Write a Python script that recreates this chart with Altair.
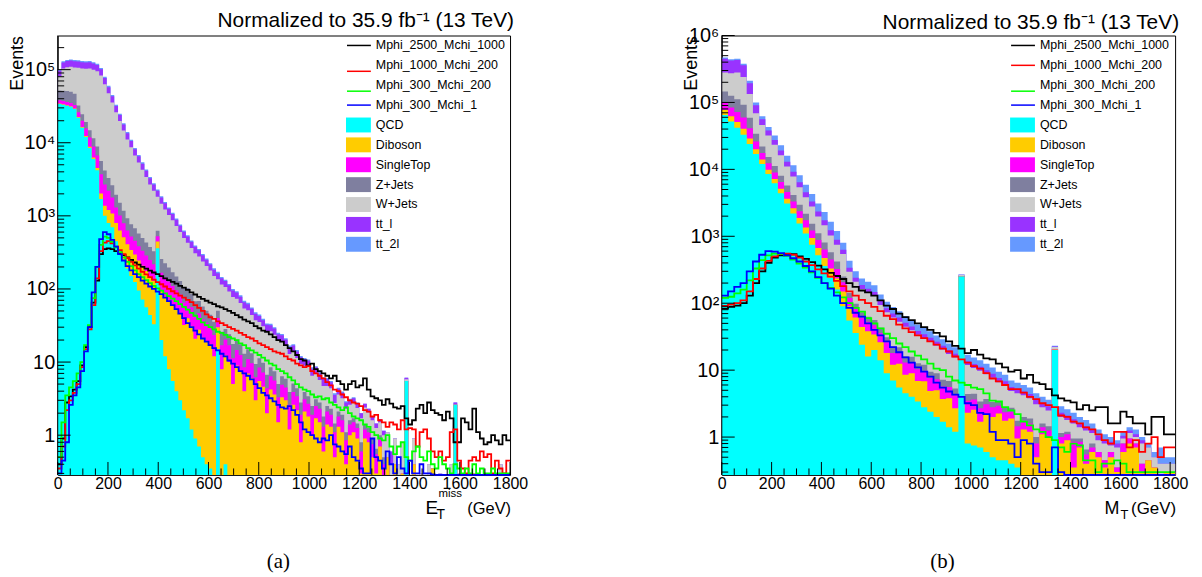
import altair as alt
import numpy as np
import pandas as pd

# ---------------- names / colours ----------------
BKG_NAMES = ["QCD", "Diboson", "SingleTop", "Z+Jets", "W+Jets", "tt_l", "tt_2l"]
BKG_COLORS = ["#00FFFF", "#FFCC00", "#FF00FF", "#7F7F9F", "#CCCCCC", "#9933FF", "#6699FF"]
SIG_NAMES = ["Mphi_2500_Mchi_1000", "Mphi_1000_Mchi_200", "Mphi_300_Mchi_200", "Mphi_300_Mchi_1"]
SIG_COLORS = ["#000000", "#FF0000", "#00FF00", "#0000FF"]

TITLE = "Normalized to 35.9 fb\u207b\u00b9  (13 TeV)"
X_TICK_LABELS = [0, 200, 400, 600, 800, 1000, 1200, 1400, 1600, 1800]
Y_DECADES_L = [1, 10, 100, 1000, 10000, 100000]
Y_DECADES_R = [1, 10, 100, 1000, 10000, 100000, 1000000]

# ---------------- panel (a): MET, 15 GeV bins ----------------
BIN_L = 15
QCD_L = [34000, 33000, 32000, 31000, 29000, 22000, 16000, 12000, 8500, 6000,
         4200, 1700, 1000, 800, 700, 450, 330, 250, 190, 150,
         125, 95, 72, 56, 44, 33, 360, 20, 12, 8,
         5.5, 4, 3, 2.2, 1.7, 1.2, 0.9, 0.7, 0.5, 0.4,
         0.35, 0, 15, 0, 0.4, 0, 0, 0, 0, 0,
         0, 0, 0, 0, 0, 0, 0, 0, 0, 0,
         0, 0, 0, 0, 0, 0, 0, 0, 0, 0,
         0, 0, 0, 0, 0, 0, 0, 0, 0, 0,
         0, 0, 0, 0, 0, 0, 0, 0, 0, 0,
         0, 0, 5.5, 0, 0, 0, 0, 0, 0, 0,
         0, 0, 0, 0, 0, 2.6, 0, 0, 0, 0,
         0, 0, 0, 0, 0, 0, 0, 0, 0, 0]
DIB_L = [500, 500, 500, 500, 450, 420, 380, 350, 320, 300,
         300, 320, 380, 400, 380, 350, 300, 260, 220, 190,
         170, 150, 135, 120, 105, 95, 85, 75, 67, 60,
         54, 48, 43, 30, 38, 30, 20, 27, 21, 19,
         17, 12, 15, 8, 12, 10, 5, 9, 7.5, 4,
         7, 6, 3, 5.5, 4.6, 2, 4.2, 3.6, 1.5, 3.3,
         3, 1.2, 2.6, 2.2, 0.8, 2.1, 1.8, 1.0, 1.7, 1.5,
         0.6, 1.4, 1.3, 0.5, 1.3, 1.1, 0.4, 1.0, 1.1, 0.9,
         0.3, 0.9, 0.8, 0.5, 0.3, 0.7, 0.2, 0.5, 0, 0.4,
         0, 0.3, 0, 0, 0.4, 0, 0, 0, 0, 0.35,
         0, 0, 0, 0, 0, 0, 0, 0, 0, 0,
         0.3, 0, 0, 0, 0, 0, 0.3, 0, 0, 0]
SING_L = [3500, 3600, 3600, 3500, 3400, 3800, 3600, 3300, 3000, 2600,
          2200, 1700, 1300, 1000, 700, 500, 380, 280, 220, 180,
          160, 140, 125, 110, 100, 90, 80, 72, 65, 58,
          50, 44, 38, 33, 29, 25, 22, 19, 17, 15,
          13, 11.5, 10, 9, 8, 7, 6.3, 5.6, 5, 4.5,
          4, 3.6, 3.2, 2.9, 2.6, 2.4, 2.2, 2, 1.8, 1.6,
          1.5, 1.4, 1.3, 1.2, 1.1, 1.0, 0.9, 0.9, 0.8, 0.8,
          0.7, 0.7, 0.6, 0.6, 0.5, 0.5, 0.45, 0.4, 0.4, 0.35,
          0.3, 0.3, 0.3, 0.25, 0.25, 0.2, 0.2, 0, 0, 0,
          0, 0, 0, 0, 0, 0, 0, 0, 0, 0,
          0, 0, 0, 0, 0, 0, 0, 0, 0, 0,
          0, 0, 0, 0, 0, 0, 0, 0, 0, 0]
ZJ_L = [14000, 14500, 15000, 15000, 14000, 6000, 4500, 3500, 3000, 2600,
        2200, 1900, 1500, 1100, 850, 650, 500, 380, 300, 250,
        220, 190, 165, 145, 125, 110, 100, 90, 80, 70,
        60, 52, 45, 39, 34, 29, 25, 22, 19, 16,
        14, 12, 10.5, 9, 8, 7, 6.3, 5.6, 5, 4.5,
        4, 3.6, 3.2, 2.9, 2.6, 2.3, 2.1, 1.9, 1.7, 1.5,
        1.4, 1.3, 1.2, 1.0, 0.9, 0.8, 0.7, 0.6, 0.6, 0.5,
        0.5, 0.4, 0.4, 0.35, 0.3, 0.3, 0.25, 0.2, 0.2, 0.2,
        0.2, 0.2, 0.15, 0.15, 0.1, 0.1, 0.1, 0, 0, 0,
        0, 0, 0, 0, 0, 0, 0, 0, 0, 0,
        0, 0, 0, 0, 0, 0, 0, 0, 0, 0,
        0, 0, 0, 0, 0, 0, 0, 0, 0, 0]
WJ_L = [28500, 51900, 56900, 59500, 60150, 73780, 79020, 83850, 89180, 88200,
        86000, 77380, 59120, 44100, 32970, 24150, 18290, 13490, 10110, 7920,
        6035, 4805, 3763, 2969, 2306, 1882, 1195, 1204, 999, 832,
        700, 579, 471, 393, 327, 279, 241, 210, 180, 156,
        134, 115, 85, 89, 78, 68, 60, 53, 47, 41,
        36, 31, 28, 24, 21, 19.6, 17.9, 16.2, 14.5, 12.8,
        10.9, 9.0, 8.8, 7.0, 6.6, 5.0, 5.2, 4.0, 4.0, 2.9,
        2.9, 2.2, 2.1, 1.3, 1.5, 1.3, 1.2, 1.0, 1.1, 0.9,
        0.9, 1.0, 0.8, 0.7, 0.6, 0.5, 0.5, 0.6, 0.4, 0.5,
        0.4, 0.5, 0.3, 0, 0.5, 0, 0.3, 0, 0.4, 0,
        0, 0.3, 0, 0, 0.4, 0, 0.3, 0, 0, 0,
        0, 0.3, 0, 0, 0, 0, 0, 0.4, 0, 0]
TTL_L = [16000, 22000, 23000, 23500, 23000, 23000, 22500, 22000, 22000, 21500,
         20500, 18000, 13600, 10200, 7600, 5600, 4200, 3100, 2400, 1870,
         1450, 1150, 920, 730, 580, 480, 390, 315, 265, 220,
         187, 156, 130, 109, 92, 78, 68, 60, 51, 44,
         38, 33, 29, 25, 22, 20, 18, 16, 14, 12,
         11, 9.5, 8.5, 7.5, 6.6, 6.1, 5.6, 5.1, 4.6, 4.1,
         3.6, 3.2, 2.9, 2.6, 2.2, 2.0, 1.8, 1.6, 1.4, 1.3,
         1.2, 1.1, 0.9, 0.8, 0.7, 0.6, 0.5, 0.45, 0.4, 0.35,
         0.3, 0.3, 0.25, 0.2, 0.2, 0.15, 0.15, 0, 0.2, 0,
         0, 0, 0.3, 0, 0, 0, 0, 0, 0, 0,
         0, 0, 0, 0, 0, 0.2, 0, 0, 0, 0,
         0, 0, 0, 0, 0, 0, 0, 0, 0, 0]
TT2L_L = [3500, 4500, 5000, 5000, 5000, 5000, 5000, 5000, 5000, 4800,
          4600, 4000, 3100, 2400, 1800, 1300, 1000, 740, 560, 440,
          340, 270, 220, 170, 140, 110, 90, 74, 62, 52,
          44, 37, 30, 26, 22, 18, 16, 14, 12, 10,
          9, 8, 7, 6, 5.3, 4.7, 4.2, 3.7, 3.3, 2.9,
          2.6, 2.2, 2, 1.8, 1.6, 1.4, 1.3, 1.2, 1.1, 1,
          0.8, 0.8, 0.7, 0.6, 0.5, 0.5, 0.4, 0.4, 0.3, 0.3,
          0.3, 0.25, 0.2, 0.2, 0.15, 0.15, 0.1, 0.1, 0.1, 0.1,
          0, 0, 0, 0, 0, 0, 0, 0, 0, 0,
          0, 0, 0, 0, 0, 0, 0, 0, 0, 0,
          0, 0, 0, 0, 0, 0, 0, 0, 0, 0,
          0, 0, 0, 0, 0, 0, 0, 0, 0, 0]

SIG1_L = [0.4, 0.9, 2.8, 3.4, 4.2, 5.5, 9, 16, 30, 65,
          130, 300, 350, 360, 350, 330, 310, 290, 270, 250,
          230, 215, 200, 190, 178, 168, 160, 150, 140, 132,
          125, 118, 110, 104, 97, 90, 84, 78, 73, 69,
          65, 62, 58, 56, 53, 50, 47, 44, 41, 38,
          36, 34, 31, 29, 27, 26, 24, 22, 20, 19,
          17, 15.5, 14, 12.5, 11, 10.5, 9, 9.5, 8, 7.5,
          7, 6.5, 6, 6.5, 5.5, 5, 4.2, 5, 5.5, 4.5,
          4.8, 6, 4.2, 3.4, 3.2, 3, 2.6, 3.1, 2.7, 2.4,
          2.3, 2.5, 1.7, 1.4, 1.6, 2.3, 2.6, 2, 2.8, 2.2,
          2, 1.9, 1.6, 2.1, 1.7, 0.8, 0.8, 1.7, 1.5, 1.2,
          2.3, 1.1, 0.9, 0.75, 0.8, 1.0, 0.85, 0.75, 1.0, 0.85]
SIG2_L = [0.35, 0.7, 2.2, 3, 3.8, 5, 8.5, 15, 28, 60,
          140, 330, 430, 450, 420, 380, 340, 300, 265, 235,
          210, 190, 172, 158, 145, 134, 124, 116, 108, 100,
          93, 87, 81, 76, 71, 66, 60, 55, 50, 45,
          41, 39, 36, 34, 32, 30, 28.5, 27, 25, 23.5,
          22, 21, 19.5, 18, 17, 16, 15, 14, 13.5, 13,
          12, 11, 10.5, 9.5, 9, 8.5, 8.8, 7.5, 7, 6.5,
          6, 5.3, 4.8, 4.2, 4, 3.6, 3.3, 3, 2.8, 2.7,
          2.5, 2.2, 2.1, 1.8, 1.9, 1.6, 1.5, 1.3, 1.5, 1.4,
          1.2, 1.6, 1.2, 1.25, 1.2, 0.7, 1.1, 1.2, 0.9, 0.6,
          0.5, 0.6, 0.45, 0.5, 1.1, 1.2, 0.45, 0.35, 0.3, 0.45,
          0.5, 0.45, 0.6, 0.5, 0.55, 0.3, 0.45, 0.35, 0.3, 0.45]
SIG3_L = [0.5, 1.5, 3.5, 4.5, 5.5, 7, 10, 17, 32, 75,
          200, 400, 520, 500, 440, 370, 320, 270, 235, 205,
          180, 160, 145, 132, 120, 110, 102, 95, 87, 80,
          74, 68, 62, 57, 52, 47, 43, 39, 35, 32,
          30, 28, 26, 25, 23.5, 22, 21, 20, 18, 17,
          15.5, 14.5, 13.5, 12.5, 11.5, 10.5, 9.5, 9, 8, 7.5,
          7, 6.2, 5.6, 5, 4.5, 4.2, 4, 3.6, 3.3, 3.4,
          3.1, 3.2, 2.8, 2.6, 2.4, 2.2, 2.4, 2, 1.8, 1.7,
          1.6, 1.4, 1.3, 1.1, 1.0, 0.9, 0.85, 1.0, 0.7, 0.55,
          0.7, 0.8, 0.5, 0.45, 0.6, 0.7, 0.5, 0.45, 0.6, 0.4,
          0.35, 0.5, 0.4, 0.35, 0.3, 0.4, 0.35, 0.3, 0.35, 0.3,
          0.4, 0.3, 0.35, 0.3, 0.3, 0.35, 0.3, 0.3, 0.3, 0.3]
SIG4_L = [0.3, 0.45, 0.8, 2.6, 3.5, 4.5, 7.5, 14, 30, 90,
          200, 480, 600, 560, 470, 380, 300, 245, 205, 180,
          160, 145, 130, 118, 108, 100, 92, 85, 76, 68,
          60, 53, 46, 40, 34, 30, 27, 24, 21, 19,
          17, 15.5, 14.5, 13, 12, 10.5, 9.5, 8.5, 7.5, 7,
          6.5, 5.8, 5, 4.4, 3.8, 3.5, 3.2, 2.9, 2.6, 2.4,
          2.3, 2.5, 2.2, 1.9, 1.5, 1.2, 1.1, 1.0, 0.9, 0.8,
          0.9, 0.85, 1.0, 0.75, 0.7, 0.6, 0.55, 0.7, 0.5, 0.45,
          0.35, 0.3, 0.3, 0.9, 0.5, 0.45, 0.35, 0.6, 0.4, 0.3,
          0.5, 0.35, 0.3, 0.45, 0.3, 0.3, 0.4, 0.3, 0.3, 0.29,
          0.2, 0.2, 0.2, 0.2, 0.2, 0.2, 0.2, 0.2, 0.2, 0.2,
          0.2, 0.2, 0.2, 0.2, 0.2, 0.2, 0.2, 0.2, 0.2, 0.2]

# ---------------- panel (b): MT, 25 GeV bins ----------------
BIN_R = 25
QCD_R = [65000, 52000, 42000, 33000, 24000, 17000, 12000, 8500, 6200, 4400,
         3100, 2200, 1550, 1100, 750, 520, 360, 240, 160, 90,
         55, 36, 24, 16, 20, 14, 9, 7, 5.5, 4.5,
         4, 3.4, 2.8, 2.4, 2, 1.7, 1.4, 1.2, 250, 0.8,
         0.75, 0.7, 0.6, 0.5, 0.45, 0.45, 0.4, 0.35, 0, 0,
         0, 0, 0, 20, 0, 0, 0, 0, 0, 0,
         0, 0, 0, 0, 0, 0, 0, 0, 0, 0,
         0, 0]
DIB_R = [12000, 10000, 9000, 7500, 5000, 3000, 2000, 1400, 1000, 750,
         550, 420, 320, 250, 190, 150, 115, 90, 75, 60,
         35, 25, 20, 22, 14, 12, 9, 5, 7, 4,
         5, 3.5, 4, 2.5, 3, 2, 2.4, 1.5, 1.8, 1.5,
         1.8, 1.0, 1.6, 1.5, 1.8, 1.3, 1.5, 0.6, 1.3, 1.2,
         0.5, 1.1, 1.0, 0.4, 0.8, 0.9, 0.35, 0.7, 0.4, 0.6,
         0.5, 0.35, 0.5, 0.3, 0.6, 0.8, 0.7, 0.3, 0.45, 0.35,
         0.2, 0.3]
SING_R = [23000, 22000, 21000, 19000, 12000, 6000, 3500, 2400, 1800, 1300,
          950, 700, 500, 380, 280, 210, 160, 120, 90, 55,
          30, 22, 17, 15, 13, 10, 8, 6, 5.5, 4.5,
          4, 3.4, 3, 2.7, 2.3, 2, 1.8, 1.5, 1.4, 1.2,
          1.1, 1.0, 0.9, 0.8, 0.7, 0.6, 0.5, 0.5, 0.4, 0.4,
          0.3, 0.3, 0.25, 0.2, 0.2, 0.2, 0.5, 0.15, 0.15, 0.1,
          0.1, 0.1, 0.1, 0.05, 0.2, 0.15, 0.1, 0.1, 0, 0,
          0, 0]
ZJ_R = [46000, 42000, 40000, 33000, 18000, 8000, 4500, 3000, 2200, 1600,
        1150, 830, 600, 440, 320, 235, 175, 130, 95, 45,
        22, 15, 12, 10, 9, 7, 5, 4.5, 4, 3.2,
        2.8, 2.4, 2.2, 1.9, 1.7, 1.5, 1.3, 1.1, 1.0, 0.9,
        0.8, 0.7, 0.6, 0.55, 0.5, 0.4, 0.35, 0.3, 0.3, 0.3,
        0.2, 0.2, 0.2, 0.15, 0.15, 0.1, 0.1, 0.1, 0.1, 0.1,
        0, 0, 0, 0, 0, 0, 0, 0, 0, 0,
        0, 0]
WJ_R = [134000, 146000, 168000, 147500, 75000, 35000, 24000, 16700, 12100, 8150,
        5250, 3650, 2430, 1660, 1240, 855, 650, 450, 325, 295,
        153, 112, 90, 81, 72, 51, 42, 38.5, 31, 28.3,
        23.6, 21, 18.2, 17.2, 14.2, 13.1, 10.6, 10.1, 9, 7.5,
        6.35, 6.4, 5, 4.35, 3.15, 3.15, 2.15, 2.75, 2.2, 1.9,
        2.1, 1.2, 1.05, 1.5, 0.85, 0.6, 0.65, 0.45, 0.6, 0.35,
        0.3, 0.35, 0.15, 0.35, 0.15, 0.2, 0.2, 0.4, 0.25, 0.15,
        0.2, 0.1]
TTL_R = [170000, 150000, 150000, 120000, 60000, 22000, 10000, 6000, 4200, 3000,
         2000, 1400, 1000, 720, 520, 380, 280, 200, 145, 85,
         45, 30, 24, 21, 19, 14, 11, 9, 8, 6.5,
         5.6, 4.8, 4.3, 3.8, 3.3, 2.9, 2.5, 2.2, 2, 1.7,
         1.6, 1.4, 1.3, 1.1, 1.0, 0.9, 0.7, 0.7, 0.6, 0.6,
         0.5, 0.4, 0.4, 0.3, 0.3, 0.3, 0.25, 0.2, 0.2, 0.15,
         0.15, 0.1, 0.1, 0.1, 0.1, 0.1, 0.1, 0.1, 0, 0,
         0, 0]
TT2L_R = [20000, 18000, 20000, 20000, 16000, 9000, 6000, 5000, 4500, 3800,
          3000, 2300, 1800, 1350, 1000, 750, 560, 420, 310, 170,
          90, 60, 48, 45, 38, 27, 21, 18, 15, 13,
          11, 9.5, 8.5, 7.5, 6.5, 5.8, 5, 4.4, 4, 3.4,
          3.1, 2.8, 2.5, 2.2, 1.9, 1.7, 1.4, 1.3, 1.2, 1.1,
          0.9, 0.8, 0.7, 0.6, 0.6, 0.5, 0.45, 0.4, 0.35, 0.3,
          0.25, 0.2, 0.15, 0.1, 0.15, 0.15, 0.2, 0.1, 0.1, 0.1,
          0.3, 0.1]

SIG1_R = [83, 88, 92, 100, 130, 200, 300, 400, 480, 520,
          545, 540, 500, 460, 410, 365, 320, 285, 255, 230,
          200, 175, 155, 145, 130, 110, 92, 82, 70, 62,
          56, 50, 44, 40, 36, 32, 27, 23, 21, 18,
          20, 17, 15, 14.5, 12.5, 11, 9.5, 10, 7.5, 8.5,
          6.5, 6.2, 5.2, 4.2, 3.8, 3.5, 3.3, 2.6, 3.0, 2.5,
          2.8, 2.8, 1.6, 1.6, 2.4, 2.0, 1.6, 1.6, 1.1, 2.0,
          2.0, 1.1]
SIG2_R = [91, 95, 100, 110, 150, 230, 330, 430, 500, 540,
          550, 530, 480, 420, 370, 320, 280, 250, 215, 180,
          150, 130, 112, 100, 88, 76, 65, 58, 48, 42,
          37, 33, 30, 27, 24, 21, 19, 16, 14.5, 13,
          11.5, 10.5, 9, 7.5, 6.8, 6, 5.2, 5.2, 4.6, 4,
          3.7, 3.2, 3.0, 2.8, 2.1, 2.0, 1.7, 1.6, 1.4, 1.3,
          1.1, 0.9, 0.8, 1.2, 1.2, 0.7, 0.9, 0.6, 0.8, 1.0,
          0.5, 0.7]
SIG3_R = [120, 125, 140, 160, 220, 330, 440, 520, 550, 545,
          510, 450, 390, 340, 290, 240, 200, 170, 145, 122,
          100, 85, 75, 60, 50, 42, 35, 30, 25, 22,
          19, 16.5, 14.5, 12.5, 10.5, 10, 8, 7, 6.5, 6,
          5.5, 5.2, 4.5, 3.5, 3.4, 2.8, 2.5, 2.2, 1.7, 1.5,
          1.3, 1.2, 1.0, 0.9, 0.7, 0.6, 0.8, 0.75, 0.45, 0.45,
          0.3, 0.4, 0.4, 0.45, 0.4, 0.3, 0.3, 0.3, 0.3, 0.3,
          0.3, 0.3]
SIG4_R = [130, 150, 175, 200, 300, 420, 530, 600, 590, 560,
          520, 470, 420, 360, 300, 245, 200, 165, 130, 100,
          85, 72, 63, 50, 40, 33, 27, 22, 18.5, 15.5,
          13, 11, 9.5, 8, 6.5, 5.5, 4.8, 4.3, 4, 3.2,
          3, 2.3, 2.2, 1.2, 0.9, 0.9, 0.8, 0.5, 0.9, 0.8,
          0.4, 0.3, 0.3, 0.7, 0.3, 0.2, 0.2, 0.2, 0.2, 0.2,
          0.2, 0.2, 0.2, 0.2, 0.2, 0.2, 0.2, 0.2, 0.2, 0.2,
          0.2, 0.2]

for arr in [QCD_L, DIB_L, SING_L, ZJ_L, WJ_L, TTL_L, TT2L_L, SIG1_L, SIG2_L, SIG3_L, SIG4_L]:
    assert len(arr) == 120, len(arr)
for arr in [QCD_R, DIB_R, SING_R, ZJ_R, WJ_R, TTL_R, TT2L_R, SIG1_R, SIG2_R, SIG3_R, SIG4_R]:
    assert len(arr) == 72, len(arr)

H = 442
FONT = "Liberation Sans"

LABEL_EXPR = ("datum.value < 3 ? '1' : datum.value < 30 ? '10' : datum.value < 300 ? '10\u00b2' : "
              "datum.value < 3000 ? '10\u00b3' : datum.value < 30000 ? '10\u2074' : "
              "datum.value < 300000 ? '10\u2075' : '10\u2076'")

LEGEND_ROWS = SIG_NAMES + BKG_NAMES


def one():
    return alt.Chart(pd.DataFrame({"d": [0]}))


def panel(bkg, sig, bin_w, x_max, width, y_dom, decades, title_x, xlabel, caption, leg_line_dy,
          title_dy):
    n = len(bkg[0])
    edges = [bin_w * i for i in range(n)] + [x_max]
    cum = np.cumsum(np.array(bkg, dtype=float), axis=0)
    rows = []
    for j, name in enumerate(BKG_NAMES):
        tops = list(cum[j]) + [cum[j][-1]]
        for x, t in zip(edges, tops):
            rows.append({"x": x, "v": max(float(t), 1e-4), "series": name})
    for k, name in enumerate(SIG_NAMES):
        vs = list(sig[k]) + [sig[k][-1]]
        for x, v in zip(edges, vs):
            rows.append({"x": x, "v": max(float(v), 1e-4), "series": name})
    df = pd.DataFrame(rows)

    xs = alt.Scale(domain=[0, x_max], nice=False, zero=False)
    ys = alt.Scale(type="log", domain=y_dom, nice=False, clamp=True)
    xax = alt.Axis(values=X_TICK_LABELS, format="d", labelFlush=False, ticks=False, domain=False,
                   grid=False, labelFontSize=16, labelPadding=1, labelColor="black", labelFont=FONT,
                   labelOverlap=False, title=None, zindex=1)
    yax = alt.Axis(values=decades, labelExpr=LABEL_EXPR, ticks=False, domain=False, grid=False,
                   labelFontSize=20, labelPadding=3, labelColor="black", labelFont=FONT,
                   labelOverlap=False, title="Events", titleFont=FONT, titleFontSize=18,
                   titleFontWeight="normal", titleColor="black", titleAngle=270,
                   titleAlign="right", titleBaseline="middle", titleX=title_x, titleY=0, zindex=1)

    base = alt.Chart(df)
    layers = []
    for name, color in reversed(list(zip(BKG_NAMES, BKG_COLORS))):
        layers.append(
            base.transform_filter(alt.datum.series == name)
            .mark_area(interpolate="step-after", color=color, opacity=1)
            .encode(x=alt.X("x:Q", scale=xs, axis=xax),
                    y=alt.Y("v:Q", scale=ys, axis=yax, stack=None),
                    y2=alt.value(H))
        )
    for name, color in zip(SIG_NAMES, SIG_COLORS):
        layers.append(
            base.transform_filter(alt.datum.series == name)
            .mark_line(interpolate="step-after", color=color, strokeWidth=1.8)
            .encode(x=alt.X("x:Q", scale=xs, axis=xax),
                    y=alt.Y("v:Q", scale=ys, axis=yax, stack=None))
        )

    # inward ticks (ROOT style)
    x_major = pd.DataFrame({"x": X_TICK_LABELS})
    x_minor = pd.DataFrame({"x": [v for v in range(0, 1801, 50) if v % 200 != 0]})
    y_major = pd.DataFrame({"v": [d for d in decades if y_dom[0] <= d <= y_dom[1]]})
    y_minor = pd.DataFrame({"v": [m * d for d in [0.1] + decades for m in range(2, 10)
                                  if y_dom[0] <= m * d <= y_dom[1]]})
    for tdf, ln in [(x_major, 13), (x_minor, 6.5)]:
        layers.append(alt.Chart(tdf).mark_rule(color="black", strokeWidth=1).encode(
            x=alt.X("x:Q", scale=xs, axis=xax), y=alt.value(H), y2=alt.value(H - ln)))
    for tdf, ln in [(y_major, 13), (y_minor, 6.5)]:
        layers.append(alt.Chart(tdf).mark_rule(color="black", strokeWidth=1).encode(
            y=alt.Y("v:Q", scale=ys, axis=yax), x=alt.value(0), x2=alt.value(ln)))
    layers.append(one().mark_rule(color="black", strokeWidth=1).encode(
        x=alt.value(0), y=alt.value(0), y2=alt.value(H)))

    # legend
    for i, lab in enumerate(LEGEND_ROWS):
        yy = 10 + 20 * i
        if i < 4:
            dy = leg_line_dy[i]
            layers.append(one().mark_rule(color=SIG_COLORS[i], strokeWidth=1.5).encode(
                x=alt.value(291), x2=alt.value(315), y=alt.value(yy + dy)))
        else:
            layers.append(one().mark_rect(color=BKG_COLORS[i - 4]).encode(
                x=alt.value(290), x2=alt.value(315), y=alt.value(yy - 7.5), y2=alt.value(yy + 7.5)))
        layers.append(one().mark_text(text=lab, align="left", baseline="middle", fontSize=12.5,
                                      font=FONT, color="black").encode(
            x=alt.value(320), y=alt.value(yy)))

    # x-axis title pieces
    for txt, px, py, size, align in xlabel:
        layers.append(one().mark_text(text=txt, align=align, baseline="alphabetic", fontSize=size,
                                      font=FONT, color="black").encode(
            x=alt.value(px), y=alt.value(py)))
    layers.append(one().mark_text(text=caption, align="center", baseline="middle", fontSize=21,
                                  font="Liberation Serif", color="black").encode(
        x=alt.value(222), y=alt.value(530)))

    return alt.layer(*layers).properties(
        width=width, height=H,
        title=alt.TitleParams(TITLE, anchor="end", frame="group", fontSize=21, font=FONT,
                              fontWeight="normal", color="black", offset=4, dx=4, dy=title_dy))


left = panel([QCD_L, DIB_L, SING_L, ZJ_L, WJ_L, TTL_L, TT2L_L],
             [SIG1_L, SIG2_L, SIG3_L, SIG4_L], BIN_L, 1800, 455,
             [0.286, 2.93e5], Y_DECADES_L, -40,
             [("E", 370, 481, 19, "left"), ("T", 381, 486, 14, "left"),
              ("miss", 383, 464, 11.5, "left"), ("(GeV)", 456, 481, 16.5, "right")],
             "(a)", [0, 6, 6, 0], 0)
right = panel([QCD_R, DIB_R, SING_R, ZJ_R, WJ_R, TTL_R, TT2L_R],
              [SIG1_R, SIG2_R, SIG3_R, SIG4_R], BIN_R, 1820, 456,
              [0.272, 1e6], Y_DECADES_R, -30,
              [("M", 385, 481, 18, "left"), ("T", 401, 486, 13, "left"),
               ("(GeV)", 457, 481, 17, "right")],
              "(b)", [0, 0, 6, 0], 11)

chart = alt.hconcat(left, right, spacing=154).properties(
    padding={"left": 0, "top": 0, "right": 5, "bottom": 0}
).configure(font=FONT).configure_view(stroke="black", strokeWidth=1)

chart.save("out.html", embed_options={"renderer": "svg", "actions": False})
